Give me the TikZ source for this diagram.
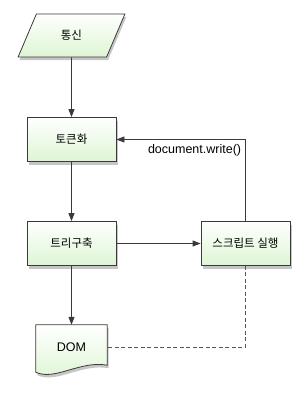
\documentclass[tikz,border=0pt]{standalone}
\usepackage{fontspec}
\setmainfont{Liberation Sans}
\newfontfamily\kr{Noto Sans CJK KR}
\usetikzlibrary{arrows.meta, calc, shapes.geometric, shadows, backgrounds}

\definecolor{boxgreen}{HTML}{DDF5D3}
\definecolor{boxline}{HTML}{3A3A3A}
\definecolor{dashgray}{HTML}{555555}

\tikzset{
  flowbox/.style={draw=boxline, line width=0.8pt, top color=white, bottom color=boxgreen,
    minimum width=89pt, minimum height=44pt, inner sep=0pt,
    drop shadow={shadow xshift=1.5pt, shadow yshift=-3pt, opacity=0.45},
    font=\kr\fontsize{11.5}{13}\selectfont},
  iobox/.style={flowbox, trapezium, trapezium left angle=62, trapezium right angle=118,
    trapezium stretches=true, minimum width=107pt, minimum height=43pt},
  flowarrow/.style={draw=boxline, line width=0.8pt, -{Triangle[length=8pt, width=6pt]}},
}

\begin{document}
\begin{tikzpicture}[x=1pt, y=-1pt]
  \useasboundingbox (0,0) rectangle (308,400);

  % Nodes
  \node[iobox] (recv) at (71.5,35.5) {통신};
  \node[flowbox] (token) at (71.5,139.5) {토큰화};
  \node[flowbox] (tree) at (71.5,243.5) {트리구축};
  \node[flowbox] (script) at (245.5,243.5) {스크립트 실행};
  \node[minimum width=71pt, minimum height=44pt, inner sep=0pt,
    font=\fontsize{12.5}{14}\selectfont] (dom) at (71.5,347) {DOM};

  % DOM (document shape)
  \begin{scope}[on background layer]
    \path[draw=boxline, line width=0.8pt, top color=white, bottom color=boxgreen,
      drop shadow={shadow xshift=1.5pt, shadow yshift=-3pt, opacity=0.45}]
      (dom.north west) -- (dom.north east) -- ($(dom.south east)+(0,-4)$)
      .. controls ($(dom.south east)+(-27,-9)$) and ($(dom.south west)+(19,12)$) .. ($(dom.south west)+(0,3)$)
      -- cycle;
  \end{scope}

  % Connectors
  \draw[flowarrow] (recv) -- (token);
  \draw[flowarrow] (token) -- (tree);
  \draw[flowarrow] (tree) -- (dom);
  \draw[flowarrow] (tree) -- (script);
  \draw[flowarrow] (script.north) |- (token.east)
    node[pos=0.5, anchor=north east, xshift=-4pt, yshift=-5pt, inner sep=0pt,
      font=\fontsize{12.5}{14}\selectfont] {document.write()};
  \draw[dashgray, line width=0.8pt, dash pattern=on 4pt off 2.5pt] (script.south) |- (dom.east);
\end{tikzpicture}
\end{document}
